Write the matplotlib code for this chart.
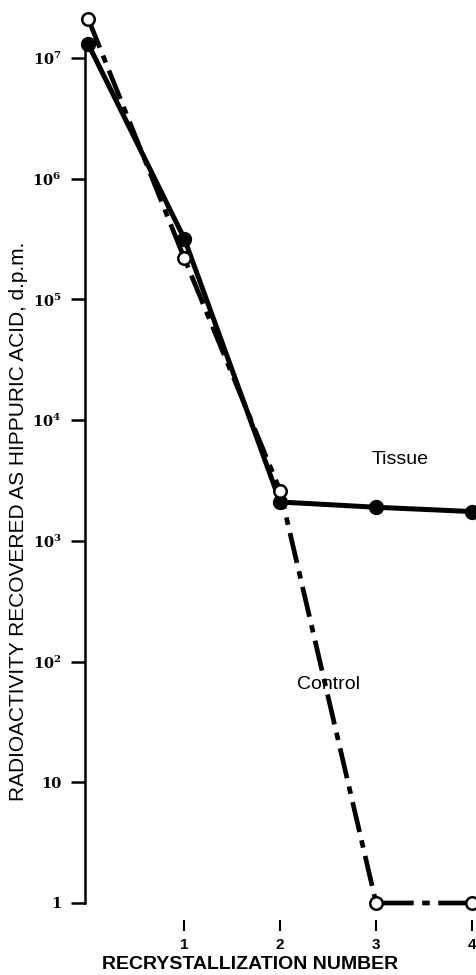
import numpy as np
import matplotlib
matplotlib.use("Agg")
import matplotlib.pyplot as plt

# values (d.p.m.)
recryst = [0, 1, 2, 3, 4]
tissue = [1.3e7, 3.2e5, 2.1e3, 1.9e3, 1.75e3]
control = [2.1e7, 2.2e5, 2.6e3, 1.0, 1.0]

ytick_vals = [1, 10, 1e2, 1e3, 1e4, 1e5, 1e6, 1e7]
ytick_labels = ["1", "10", r"$\mathbf{10^2}$", r"$\mathbf{10^3}$", r"$\mathbf{10^4}$",
                r"$\mathbf{10^5}$", r"$\mathbf{10^6}$", r"$\mathbf{10^7}$"]
xtick_vals = [1, 2, 3, 4]

plt.rcParams['font.family'] = ['Liberation Sans', 'DejaVu Sans']
plt.rcParams['mathtext.fontset'] = 'dejavuserif'

fig = plt.figure(figsize=(4.76, 9.75), dpi=100)
ax = fig.add_axes([85 / 476, 72 / 975, (472 - 85) / 476, (903 - 42) / 975])

ax.set_yscale('log')
ax.set_xlim(-0.035, 4)
ax.set_ylim(1, 10 ** (7 + 16 / 120))

ax.plot(recryst, tissue, color='black', lw=3.6, marker='o', ms=10,
        mfc='black', mec='black', clip_on=False, zorder=3)
ax.plot(recryst, control, color='black', lw=3.4, dashes=(6.5, 1.8, 1.6, 1.8),
        marker='o', ms=9, mfc='white', mec='black', mew=1.8,
        clip_on=False, zorder=4)

ax.text(3.25, 4.7e3, "Tissue", fontsize=14, ha='center', va='center')
ax.text(2.5, 64, "Control", fontsize=14, ha='center', va='center')

for side in ['top', 'right', 'bottom']:
    ax.spines[side].set_visible(False)
ax.spines['left'].set_linewidth(1.8)
ax.spines['bottom'].set_position(('outward', 12))

ax.set_yticks(ytick_vals)
ax.set_yticklabels(ytick_labels, fontsize=10.5, fontweight='bold', family='DejaVu Serif')
ax.yaxis.set_minor_locator(matplotlib.ticker.NullLocator())
ax.tick_params(axis='y', direction='out', length=10, width=1.8, pad=7)

ax.set_xticks(xtick_vals)
ax.set_xticklabels([str(v) for v in xtick_vals], fontsize=11, fontweight='bold')
ax.tick_params(axis='x', direction='out', length=8, width=1.5, pad=5)

ax.set_xlabel("RECRYSTALLIZATION NUMBER", fontsize=14, fontweight='bold')
ax.xaxis.set_label_coords((250 - 85) / (472 - 85), -(956 - 903) / (903 - 42))
ax.set_ylabel("RADIOACTIVITY RECOVERED AS HIPPURIC ACID, d.p.m.", fontsize=15)
ax.yaxis.set_label_coords(-57 / (472 - 85), (903 - 521) / (903 - 42))

fig.savefig("out.png", dpi=100)
